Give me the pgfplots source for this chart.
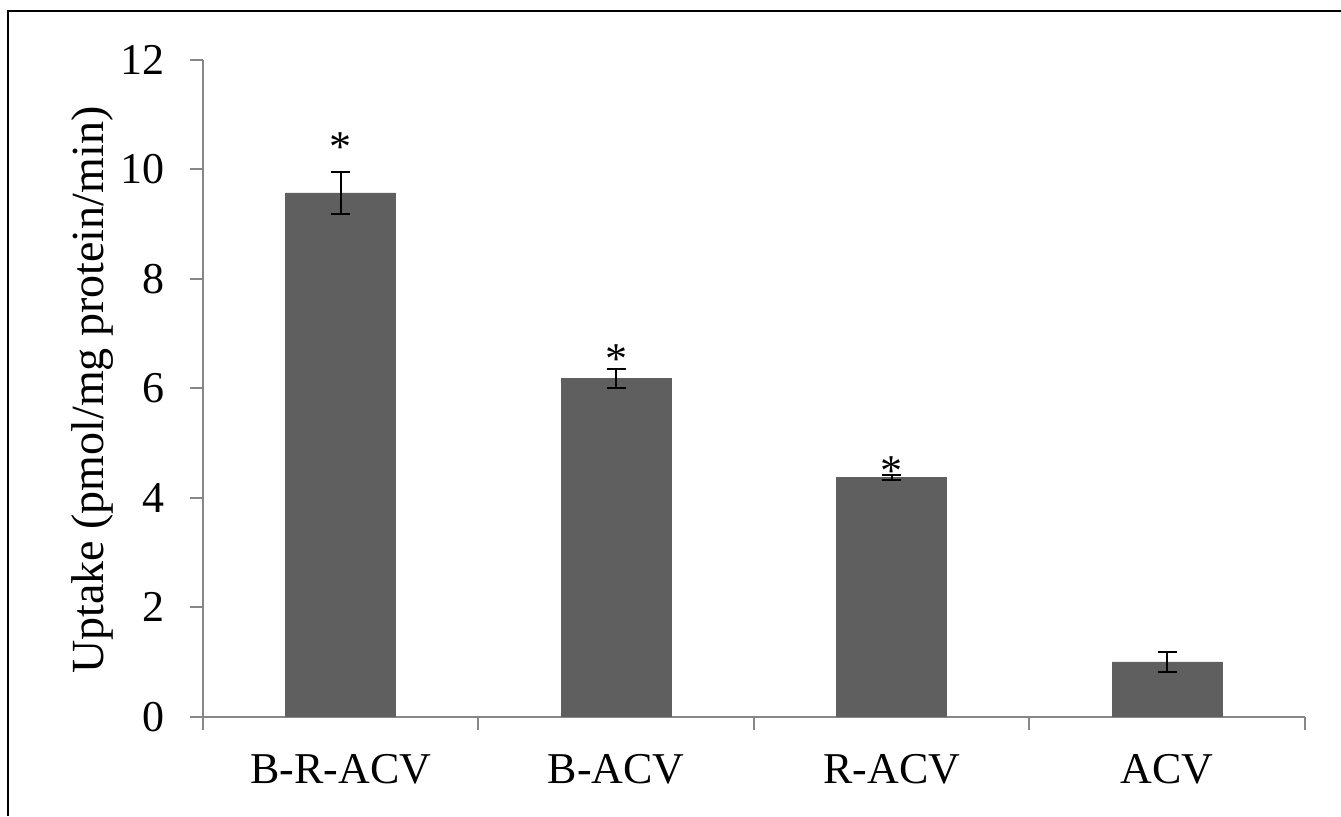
\documentclass[border=0pt]{standalone}
\usepackage{fontspec}
\setmainfont{Liberation Serif}
\usepackage{pgfplots}
\pgfplotsset{compat=1.18}
\definecolor{barc}{HTML}{5F5F5F}
\definecolor{axc}{HTML}{878787}
\begin{document}
\begin{tikzpicture}
\useasboundingbox (0pt,0pt) rectangle (670.5pt,408pt);
\draw[black, line width=1pt] (4pt,0pt) -- (4pt,402.5pt) -- (670.5pt,402.5pt);
\begin{axis}[
  at={(101.5pt,49.65pt)}, anchor=south west,
  scale only axis, width=551pt, height=328.35pt,
  xmin=-0.5, xmax=3.5, ymin=0, ymax=12,
  ytick={0,2,...,12},
  xtick={0,1,2,3}, xticklabels={B-R-ACV,B-ACV,R-ACV,ACV},
  minor xtick={-0.5,0.5,1.5,2.5,3.5},
  axis lines*=left,
  axis line style={-, axc, line width=1pt},
  major x tick style={draw=none},
  tick style={axc, line width=1pt},
  tick align=outside, major tick length=6.5pt, minor tick length=6.5pt,
  /pgf/number format/assume math mode=true,
  tick label style={font=\fontsize{22}{26}\selectfont},
  xticklabel style={anchor=base, yshift=-27pt},
  yticklabel style={anchor=east, inner sep=0pt, xshift=-12.5pt},
  ylabel={Uptake (pmol/mg protein/min)},
  ylabel style={at={(axis description cs:-0.100,0.497)}, anchor=center, font=\fontsize{23}{27}\selectfont},
  clip=false,
]
\addplot[ybar, bar width=55pt, fill=barc, draw=barc,
  error bars/.cd, y dir=both, y explicit,
  error bar style={black, line width=1pt},
  error mark options={rotate=90, black, mark size=4.75pt, line width=1pt}]
  coordinates {(0,9.57) +- (0,0.39) (1,6.18) +- (0,0.17) (2,4.37) +- (0,0.04) (3,1.0) +- (0,0.18)};
\addplot[draw=none, mark=none, nodes near coords={*},
  every node near coord/.style={anchor=center, yshift=-3pt, font=\fontsize{22}{26}\selectfont}]
  coordinates {(0,10.51) (1,6.65) (2,4.60)};
\end{axis}
\end{tikzpicture}
\end{document}
